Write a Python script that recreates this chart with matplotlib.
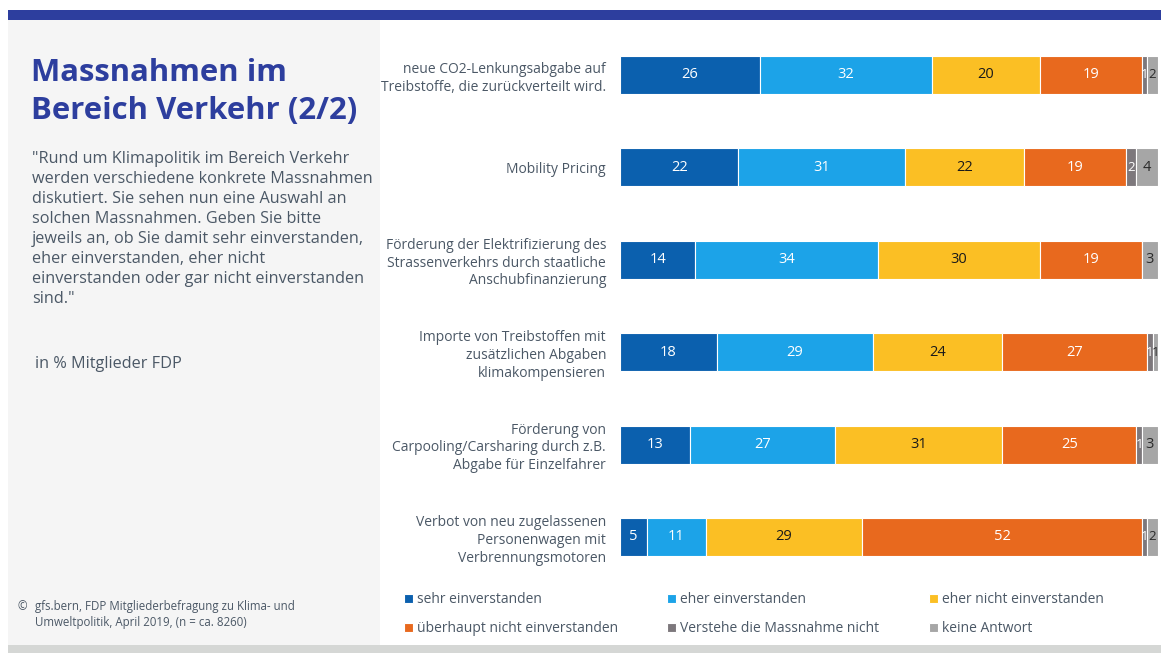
import matplotlib
matplotlib.use("Agg")
import matplotlib.pyplot as plt
from matplotlib.patches import Rectangle
import numpy as np

plt.rcParams['font.family'] = ['Open Sans', 'DejaVu Sans']

categories = [
    "neue CO2-Lenkungsabgabe auf\nTreibstoffe, die zurückverteilt wird.",
    "Mobility Pricing",
    "Förderung der Elektrifizierung des\nStrassenverkehrs durch staatliche\nAnschubfinanzierung",
    "Importe von Treibstoffen mit\nzusätzlichen Abgaben\nklimakompensieren",
    "Förderung von\nCarpooling/Carsharing durch z.B.\nAbgabe für Einzelfahrer",
    "Verbot von neu zugelassenen\nPersonenwagen mit\nVerbrennungsmotoren",
]
series_names = ["sehr einverstanden", "eher einverstanden", "eher nicht einverstanden",
                "überhaupt nicht einverstanden", "Verstehe die Massnahme nicht", "keine Antwort"]
sehr = [26, 22, 14, 18, 13, 5]
eher = [32, 31, 34, 29, 27, 11]
eher_nicht = [20, 22, 30, 24, 31, 29]
ueberhaupt_nicht = [19, 19, 19, 27, 25, 52]
versteht_nicht = [1, 2, 0, 1, 1, 1]
keine_antwort = [2, 4, 3, 1, 3, 2]

series = [sehr, eher, eher_nicht, ueberhaupt_nicht, versteht_nicht, keine_antwort]
colors = ["#0b60ae", "#1ca3e8", "#fbbf24", "#e8691e", "#7d787c", "#a6a6a6"]
text_colors = ["white", "white", "#1a1a1a", "white", "white", "#2a2a2a"]
txt_col = "#4b5866"

W, H = 1161, 653
fig = plt.figure(figsize=(W / 100, H / 100), dpi=100)

def fx(x):
    return x / W

def fy(y):
    return 1 - y / H

# background decorations
fig.patches.append(Rectangle((fx(8), fy(20)), fx(1153), 10 / H, transform=fig.transFigure,
                             facecolor="#2d3e9e", edgecolor="none", zorder=0))
fig.patches.append(Rectangle((fx(8), fy(645)), fx(372), 625 / H, transform=fig.transFigure,
                             facecolor="#f5f5f5", edgecolor="none", zorder=0))
fig.patches.append(Rectangle((fx(8), fy(653)), fx(1153), 8 / H, transform=fig.transFigure,
                             facecolor="#d5d7d5", edgecolor="none", zorder=0))

# left panel texts
fig.text(fx(31), fy(92), "Massnahmen im\nBereich Verkehr (2/2)", fontsize=22.4, fontweight="bold",
         color="#2d3e9e", va="center", ha="left", linespacing=1.36)
quote = ('"Rund um Klimapolitik im Bereich Verkehr\nwerden verschiedene konkrete Massnahmen\n'
         'diskutiert. Sie sehen nun eine Auswahl an\nsolchen Massnahmen. Geben Sie bitte\n'
         'jeweils an, ob Sie damit sehr einverstanden,\neher einverstanden, eher nicht\n'
         'einverstanden oder gar nicht einverstanden\nsind."')
fig.text(fx(32), fy(229), quote, fontsize=11.7, color=txt_col, va="center", ha="left", linespacing=1.34)
fig.text(fx(35), fy(364), "in % Mitglieder FDP", fontsize=11.7, color=txt_col, va="center", ha="left")
fig.text(fx(17), fy(607), "©", fontsize=8.3, color=txt_col, va="center", ha="left")
fig.text(fx(35), fy(614.5), "gfs.bern, FDP Mitgliederbefragung zu Klima- und\nUmweltpolitik, April 2019, (n = ca. 8260)",
         fontsize=8.3, color=txt_col, va="center", ha="left", linespacing=1.35)

# bar axes
x0, x1 = 620, 1158
ytop, ybot = 28.8, 583.2
ax = fig.add_axes([fx(x0), fy(ybot), fx(x1 - x0), (ybot - ytop) / H])
n = len(categories)
ypos = np.arange(n)
left = np.zeros(n)
handles = []
for vals, col, tc, name in zip(series, colors, text_colors, series_names):
    vals = np.array(vals, dtype=float)
    bars = ax.barh(ypos, vals, left=left, height=0.41, color=col, edgecolor="white",
                   linewidth=0.8, label=name)
    handles.append(bars)
    for yi, (l, v) in enumerate(zip(left, vals)):
        if v > 0:
            ax.text(l + v / 2, yi, f"{int(v)}", ha="center", va="center", color=tc,
                    fontsize=10.5 if v > 2 else 9.5)
    left += vals
ax.set_xlim(0, 100)
ax.set_ylim(n - 0.5, -0.5)
ax.set_yticks(ypos)
ax.set_yticklabels(categories, fontsize=10, color=txt_col, linespacing=1.25)
ax.tick_params(axis="y", length=0, pad=10)
ax.set_xticks([])
for s in ax.spines.values():
    s.set_visible(False)
ax.patch.set_alpha(0)

# legend: three columns of two entries
col_x = [400, 663, 925]
for c, xs in enumerate(col_x):
    idx = [c, c + 3]
    fig.legend([handles[i] for i in idx], [series_names[i] for i in idx], ncol=1,
               loc="upper left", bbox_to_anchor=(fx(xs), fy(588)), frameon=False,
               fontsize=10, handlelength=0.6, handleheight=0.6, handletextpad=0.35,
               labelspacing=1.0, labelcolor=txt_col, borderaxespad=0, borderpad=0.3)

fig.savefig("out.png", dpi=100)
